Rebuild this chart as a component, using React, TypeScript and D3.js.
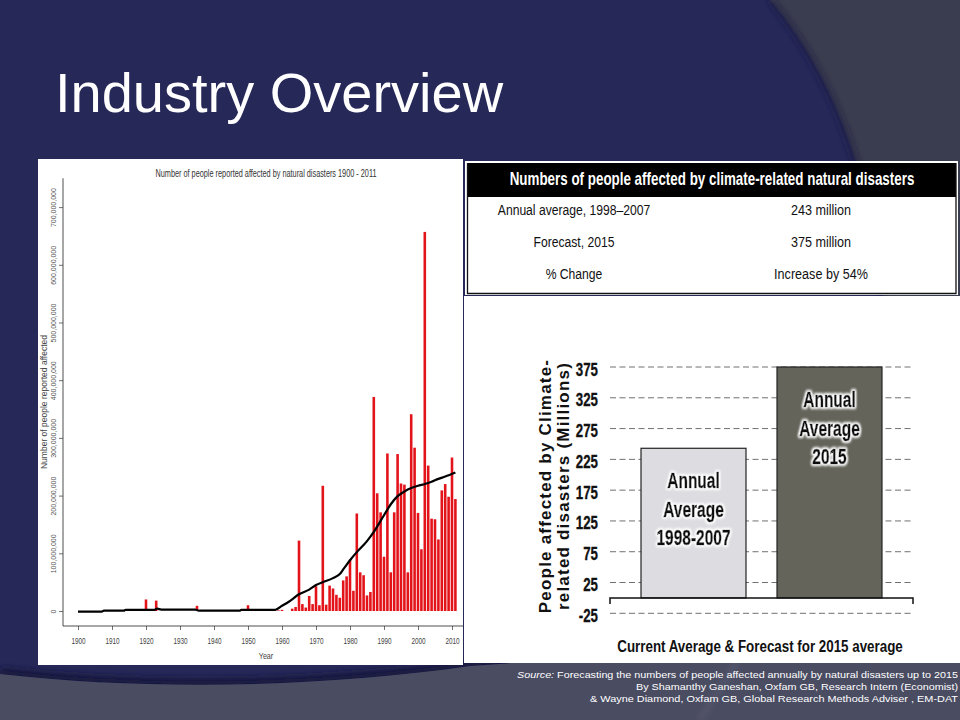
import { useRef, useEffect } from "react";
import * as d3 from "d3";

// ---- left chart: people affected per year (millions), EM-DAT 1900-2011
const years = d3.range(1900, 2012);
const affectedMillions = [
  0, 0, 0, 0, 0, 0, 0, 0, 0, 0, // 1900s
  0, 0, 0, 0, 0, 0, 0, 0, 0, 0, // 1910s
  20, 0, 0, 18, 0, 0, 0, 0, 0, 0, // 1920s
  0, 0, 0, 0, 0, 9, 0, 0, 0, 0, // 1930s
  0, 0, 0, 0, 0, 0, 0, 0, 0, 0, // 1940s
  10, 0, 0, 0, 0, 0, 0, 0, 0, 1, // 1950s
  2, 0, 0, 4, 7, 122, 12, 6, 26, 12, // 1960s
  43, 10, 217, 11, 44, 39, 28, 23, 53, 60, // 1970s
  89, 35, 169, 67, 62, 27, 33, 371, 204, 171, // 1980s
  94, 273, 67, 171, 272, 221, 219, 67, 341, 283, // 1990s
  170, 107, 657, 252, 160, 159, 124, 209, 220, 198, // 2000s
  266, 194,
];

// smoothed trend
const trendYears = [
  1900, 1907, 1907.6, 1913.5, 1914, 1922.5, 1923.3, 1924.5, 1934.5, 1935.5, 1947.5, 1948, 1958,
  1960, 1962, 1965, 1968, 1970, 1972, 1975, 1977, 1978, 1980,
  1982, 1985, 1987, 1990, 1992, 1994, 1996, 1998, 2000, 2002,
  2004, 2006, 2008, 2011,
];
const trendMillions = [
  -1, -1, 0.8, 0.8, 2, 2, 4, 2.5, 2.5, 0.5, 0.5, 2, 2,
  9, 16, 29, 37, 45, 50, 57, 64, 72, 88,
  102, 121, 137, 166, 185, 199, 207, 213, 217, 220,
  224, 229, 233, 240,
];

const leftYTicks = [0, 100, 200, 300, 400, 500, 600, 700];
const leftXTicks = [1900, 1910, 1920, 1930, 1940, 1950, 1960, 1970, 1980, 1990, 2000, 2010];

// ---- table
const tableHeader = "Numbers of people affected by climate-related natural disasters";
const tableLabels = ["Annual average, 1998\u20132007", "Forecast, 2015", "% Change"];
const tableValues = ["243 million", "375 million", "Increase by 54%"];

// ---- right chart
const avgKeys = ["current", "forecast"];
const avgLabels = [
  ["Annual", "Average", "1998-2007"],
  ["Annual", "Average", "2015"],
];
const avgValues = [243, 375];
const avgTicks = [-25, 25, 75, 125, 175, 225, 275, 325, 375];

const sourceLines = [
  "Forecasting the numbers of people affected annually by natural disasters up to 2015",
  "By Shamanthy Ganeshan, Oxfam GB, Research Intern (Economist)",
  "& Wayne Diamond, Oxfam GB, Global Research Methods Adviser , EM-DAT",
];

const squeeze = (x: number, y: number, k: number, rot = 0) =>
  `translate(${x},${y}) rotate(${rot}) scale(${k},1)`;

export default function App() {
  const ref = useRef<SVGSVGElement>(null);

  useEffect(() => {
    if (!ref.current) return;
    const svg = d3.select(ref.current);
    svg.selectAll("*").remove();

    const W = 960;
    const H = 720;
    const sans = "'Liberation Sans', Arial, Helvetica, sans-serif";

    const defs = svg.append("defs");
    const glow = defs
      .append("filter")
      .attr("id", "glow")
      .attr("x", "-20%")
      .attr("y", "-30%")
      .attr("width", "140%")
      .attr("height", "160%");
    glow.append("feMorphology").attr("in", "SourceAlpha").attr("operator", "dilate").attr("radius", 1).attr("result", "d");
    glow.append("feGaussianBlur").attr("in", "d").attr("stdDeviation", 1.4).attr("result", "b");
    glow.append("feFlood").attr("flood-color", "#ffffff");
    glow.append("feComposite").attr("in2", "b").attr("operator", "in").attr("result", "g");
    const merge = glow.append("feMerge");
    merge.append("feMergeNode").attr("in", "g");
    merge.append("feMergeNode").attr("in", "g");
    merge.append("feMergeNode").attr("in", "SourceGraphic");
    defs.append("filter").attr("id", "soft").append("feGaussianBlur").attr("stdDeviation", 3);

    // ---- slide background
    svg.append("rect").attr("width", W).attr("height", H).attr("fill", "#262858");
    svg
      .append("path")
      .attr("d", "M770,0 Q828,70 858,170 L905,420 L960,420 L960,0 Z")
      .attr("fill", "#3a3c4f");
    svg
      .append("path")
      .attr("d", "M770,0 Q828,70 858,170 L905,420")
      .attr("fill", "none")
      .attr("stroke", "#1c1e42")
      .attr("stroke-width", 4)
      .attr("filter", "url(#soft)");
    svg
      .append("path")
      .attr("d", "M0,672 C160,690 330,684 470,664 L960,630")
      .attr("fill", "none")
      .attr("stroke", "#17193a")
      .attr("stroke-width", 8)
      .attr("filter", "url(#soft)");
    svg
      .append("path")
      .attr("d", "M0,674 C160,692 330,686 470,666 L960,632 L960,720 L0,720 Z")
      .attr("fill", "#4a4c62");
    svg
      .append("line")
      .attr("x1", 738)
      .attr("y1", 660)
      .attr("x2", 700)
      .attr("y2", 720)
      .attr("stroke", "#5c5e74")
      .attr("stroke-width", 3)
      .attr("filter", "url(#soft)");

    // title
    svg
      .append("text")
      .attr("x", 55)
      .attr("y", 112)
      .attr("font-family", sans)
      .attr("font-size", 56)
      .attr("fill", "#ffffff")
      .text("Industry Overview");

    // ---- left chart panel
    svg.append("rect").attr("x", 38).attr("y", 159).attr("width", 425).attr("height", 506).attr("fill", "#ffffff");

    const lx = d3.scaleLinear().domain([1900, 2010]).range([78, 452]);
    const ly = d3.scaleLinear().domain([0, 700]).range([611, 207.1]);
    const step = lx(1901) - lx(1900);
    const bw = step * 0.76;
    const left = svg.append("g").attr("font-family", sans);

    const barData = years.map((y, i) => ({ year: y, v: affectedMillions[i] })).filter((d) => d.v > 0);
    left
      .selectAll("rect.bar")
      .data(barData)
      .join("rect")
      .attr("class", "bar")
      .attr("x", (d) => lx(d.year) - bw / 2)
      .attr("y", (d) => ly(d.v))
      .attr("width", bw)
      .attr("height", (d) => ly(0) - ly(d.v))
      .attr("fill", "#e3131a");

    const trend = d3
      .line<number>()
      .x((_, i) => lx(trendYears[i]))
      .y((d) => ly(d))
      .curve(d3.curveMonotoneX);
    left
      .append("path")
      .attr("d", trend(trendMillions))
      .attr("fill", "none")
      .attr("stroke", "#000")
      .attr("stroke-width", 2.2)
      .attr("stroke-linejoin", "round");

    // axes (R style, "l" box)
    const axisX0 = 63;
    const axisY0 = 626;
    left
      .append("line")
      .attr("x1", axisX0)
      .attr("x2", axisX0)
      .attr("y1", ly(750))
      .attr("y2", axisY0)
      .attr("stroke", "#222")
      .attr("stroke-width", 0.8);
    left
      .append("line")
      .attr("x1", axisX0)
      .attr("x2", 463)
      .attr("y1", axisY0)
      .attr("y2", axisY0)
      .attr("stroke", "#222")
      .attr("stroke-width", 0.8);

    const yAxis = left
      .append("g")
      .attr("transform", `translate(${axisX0},0)`)
      .call(
        d3
          .axisLeft(ly)
          .tickValues(leftYTicks)
          .tickSize(4)
          .tickFormat((d) => d3.format(",")((d as number) * 1e6))
      );
    yAxis.select(".domain").remove();
    yAxis.selectAll("line").attr("stroke", "#333").attr("stroke-width", 0.7);
    yAxis
      .selectAll("text")
      .attr("transform", "rotate(-90)")
      .attr("x", 0)
      .attr("y", -7)
      .attr("dy", 0)
      .attr("text-anchor", "middle")
      .attr("font-size", 7)
      .attr("fill", "#555");

    const xAxis = left
      .append("g")
      .attr("transform", `translate(0,${axisY0})`)
      .call(d3.axisBottom(lx).tickValues(leftXTicks).tickSize(4).tickFormat(d3.format("d")));
    xAxis.select(".domain").remove();
    xAxis.selectAll("line").attr("stroke", "#333").attr("stroke-width", 0.7);
    xAxis
      .selectAll("text")
      .attr("y", 12)
      .attr("dy", "0.71em")
      .attr("font-size", 8.5)
      .attr("fill", "#444")
      .attr("transform", "scale(0.75,1)");

    left
      .append("text")
      .attr("transform", squeeze(266, 176.5, 1))
      .attr("text-anchor", "middle")
      .attr("font-size", 10.5)
      .attr("fill", "#333")
      .attr("textLength", 221)
      .attr("lengthAdjust", "spacingAndGlyphs")
      .text("Number of people reported affected by natural disasters 1900 - 2011");
    left
      .append("text")
      .attr("transform", squeeze(266, 659, 0.8))
      .attr("text-anchor", "middle")
      .attr("font-size", 9)
      .attr("fill", "#444")
      .text("Year");
    left
      .append("text")
      .attr("transform", squeeze(47, 402, 1, -90))
      .attr("text-anchor", "middle")
      .attr("font-size", 8.5)
      .attr("fill", "#444")
      .text("Number of people reported affected");

    // ---- table panel
    const table = svg.append("g").attr("font-family", sans);
    table.append("rect").attr("x", 465).attr("y", 161).attr("width", 493).attr("height", 134).attr("fill", "#ffffff");
    table.append("rect").attr("x", 467).attr("y", 163).attr("width", 489).attr("height", 34).attr("fill", "#000");
    table
      .append("path")
      .attr("d", "M467.5,163 V293.5 H956 V163")
      .attr("fill", "none")
      .attr("stroke", "#111")
      .attr("stroke-width", 1.3);
    table
      .append("text")
      .attr("transform", squeeze(712, 184.7, 0.765))
      .attr("text-anchor", "middle")
      .attr("font-size", 17.5)
      .attr("font-weight", "bold")
      .attr("fill", "#fff")
      .text(tableHeader);
    const rowY = d3.scalePoint<number>().domain([0, 1, 2]).range([215.3, 278.7]);
    table
      .selectAll("text.lab")
      .data(tableLabels)
      .join("text")
      .attr("class", "lab")
      .attr("transform", (_, i) => squeeze(574, rowY(i) as number, 0.81))
      .attr("text-anchor", "middle")
      .attr("font-size", 15)
      .attr("fill", "#111")
      .text((d) => d);
    table
      .selectAll("text.val")
      .data(tableValues)
      .join("text")
      .attr("class", "val")
      .attr("transform", (_, i) => squeeze(821, rowY(i) as number, 0.84))
      .attr("text-anchor", "middle")
      .attr("font-size", 15)
      .attr("fill", "#111")
      .text((d) => d);

    // ---- right chart panel
    svg.append("rect").attr("x", 464).attr("y", 296).attr("width", 496).attr("height", 367).attr("fill", "#ffffff");
    const right = svg.append("g").attr("font-family", sans);
    const ry = d3.scaleLinear().domain([-25, 375]).range([613.3, 367]);
    const rx = d3.scaleBand().domain(avgKeys).range([610, 913]).padding(0.228);

    right
      .selectAll("line.grid")
      .data(avgTicks)
      .join("line")
      .attr("class", "grid")
      .attr("x1", 610)
      .attr("x2", 913)
      .attr("y1", (d) => ry(d))
      .attr("y2", (d) => ry(d))
      .attr("stroke", "#707070")
      .attr("stroke-width", 1)
      .attr("stroke-dasharray", "6,3.5");

    right
      .selectAll("text.tick")
      .data(avgTicks)
      .join("text")
      .attr("class", "tick")
      .attr("transform", (d) => squeeze(598, ry(d) + 8.5, 0.76))
      .attr("text-anchor", "end")
      .attr("font-size", 17.5)
      .attr("font-weight", "bold")
      .attr("fill", "#111")
      .attr("stroke", "#111")
      .attr("stroke-width", 0.3)
      .text((d) => d);

    const fills = ["#dcdce1", "#64645b"];
    right
      .selectAll("rect.avg")
      .data(avgValues)
      .join("rect")
      .attr("class", "avg")
      .attr("x", (_, i) => rx(avgKeys[i]) as number)
      .attr("y", (d) => ry(d))
      .attr("width", rx.bandwidth())
      .attr("height", (d) => ry(0) - ry(d))
      .attr("fill", (_, i) => fills[i])
      .attr("stroke", "#222")
      .attr("stroke-width", 1.2);

    // baseline with end ticks
    right
      .append("path")
      .attr("d", `M610,${ry(0) + 6} V${ry(0)} H913 V${ry(0) + 6}`)
      .attr("fill", "none")
      .attr("stroke", "#111")
      .attr("stroke-width", 1.5);

    avgLabels.forEach((lines, i) => {
      const cx = (rx(avgKeys[i]) as number) + rx.bandwidth() / 2;
      right
        .selectAll(`text.bl${i}`)
        .data(lines)
        .join("text")
        .attr("class", `bl${i}`)
        .attr("transform", (_, j) => squeeze(cx, ry(avgValues[i]) + 40 + j * 28.5, 0.72))
        .attr("text-anchor", "middle")
        .attr("font-size", 21.5)
        .attr("font-weight", "bold")
        .attr("fill", "#111")
        .attr("stroke", "#111")
        .attr("stroke-width", 0.6)
        .attr("filter", "url(#glow)")
        .text((d) => d);
    });

    const yTitle = ["People affected by Climate-", "related disasters (Millions)"];
    right
      .selectAll("text.yt")
      .data(yTitle)
      .join("text")
      .attr("class", "yt")
      .attr("transform", (_, i) => squeeze(550.5 + i * 18.4, 486, 1, -90))
      .attr("text-anchor", "middle")
      .attr("font-size", 17)
      .attr("font-weight", "bold")
      .attr("letter-spacing", 1.2)
      .attr("fill", "#111")
      .text((d) => d);

    right
      .append("text")
      .attr("transform", squeeze(760, 651.7, 0.81))
      .attr("text-anchor", "middle")
      .attr("font-size", 16.5)
      .attr("font-weight", "bold")
      .attr("fill", "#111")
      .text("Current Average & Forecast for 2015 average");

    // ---- source note
    const srcLens = [441, 322, 368];
    const src = svg
      .selectAll("text.src")
      .data(sourceLines)
      .join("text")
      .attr("class", "src")
      .attr("x", 958)
      .attr("y", (_, i) => 678 + i * 12)
      .attr("text-anchor", "end")
      .attr("font-family", sans)
      .attr("font-size", 9.8)
      .attr("fill", "#ffffff")
      .attr("textLength", (_, i) => srcLens[i])
      .attr("lengthAdjust", "spacingAndGlyphs");
    src.each(function (d, i) {
      const t = d3.select(this);
      if (i === 0) {
        t.append("tspan").attr("font-style", "italic").text("Source:");
        t.append("tspan").text(" " + d);
      } else {
        t.text(d);
      }
    });
  }, []);

  return (
    <div>
      <svg
        ref={ref}
        width={960}
        height={720}
        style={{ position: "absolute", left: 0, top: 0, display: "block" }}
      />
    </div>
  );
}
